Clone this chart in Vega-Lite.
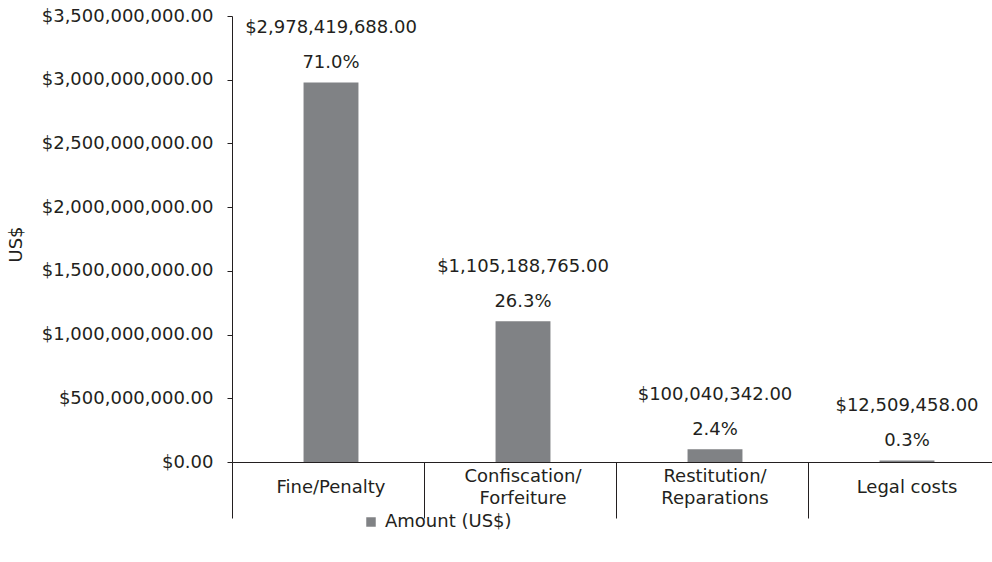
{
  "$schema": "https://vega.github.io/schema/vega-lite/v6.json",
  "width": 768,
  "height": 446,
  "autosize": {"type": "none"},
  "padding": {"left": 232, "top": 16, "right": 0, "bottom": 100},
  "background": "white",
  "config": {
    "view": {"stroke": null},
    "font": "DejaVu Sans",
    "text": {"font": "DejaVu Sans"}
  },
  "data": {
    "values": [
      {"category": "Fine/Penalty", "amount": 2978419688, "pct": 0.710},
      {"category": "Confiscation/ Forfeiture", "amount": 1105188765, "pct": 0.263},
      {"category": "Restitution/ Reparations", "amount": 100040342, "pct": 0.024},
      {"category": "Legal costs", "amount": 12509458, "pct": 0.003}
    ]
  },
  "encoding": {
    "x": {
      "field": "category",
      "type": "nominal",
      "sort": null,
      "scale": {"paddingInner": 0, "paddingOuter": 0},
      "axis": {
        "title": null,
        "tickBand": "extent",
        "tickSize": 56,
        "tickColor": "#231f20",
        "domainColor": "#231f20",
        "labels": false
      }
    }
  },
  "layer": [
    {
      "mark": {"type": "bar", "width": {"band": 0.286}, "xOffset": 3},
      "encoding": {
        "y": {
          "field": "amount",
          "type": "quantitative",
          "scale": {"domain": [0, 3500000000], "nice": false},
          "axis": {
            "title": "US$",
            "values": [0, 500000000, 1000000000, 1500000000, 2000000000, 2500000000, 3000000000, 3500000000],
            "format": "$,.2f",
            "grid": false,
            "domainColor": "#231f20",
            "tickColor": "#231f20",
            "tickSize": 5,
            "labelPadding": 14,
            "labelFontSize": 18,
            "labelColor": "#231f20",
            "titleFontSize": 18,
            "titleFontWeight": "normal",
            "titleColor": "#231f20",
            "titleX": -216,
            "titleY": 228,
            "titleBaseline": "middle"
          }
        },
        "color": {
          "datum": "Amount (US$)",
          "type": "nominal",
          "scale": {"range": ["#808285"]},
          "legend": {
            "orient": "none",
            "legendX": 130,
            "legendY": 497,
            "title": null,
            "symbolType": "square",
            "symbolSize": 90,
            "symbolStrokeWidth": 0,
            "labelFontSize": 18,
            "labelColor": "#231f20",
            "labelOffset": 5
          }
        }
      }
    },
    {
      "mark": {"type": "text", "dy": -54, "xOffset": 3, "fontSize": 18, "color": "#231f20"},
      "encoding": {
        "y": {"field": "amount", "type": "quantitative"},
        "text": {"field": "amount", "type": "quantitative", "format": "$,.2f"}
      }
    },
    {
      "mark": {"type": "text", "dy": -19, "xOffset": 3, "fontSize": 18, "color": "#231f20"},
      "encoding": {
        "y": {"field": "amount", "type": "quantitative"},
        "text": {"field": "pct", "type": "quantitative", "format": ".1%"}
      }
    },
    {
      "transform": [{"filter": "indexof(datum.category, '/ ') < 0"}],
      "mark": {"type": "text", "dy": 26, "xOffset": 3, "fontSize": 18, "color": "#231f20", "baseline": "middle"},
      "encoding": {
        "y": {"datum": 0, "type": "quantitative"},
        "text": {"field": "category", "type": "nominal"}
      }
    },
    {
      "transform": [{"filter": "indexof(datum.category, '/ ') >= 0"}],
      "mark": {"type": "text", "dy": 15, "xOffset": 3, "fontSize": 18, "color": "#231f20", "baseline": "middle", "lineBreak": " ", "lineHeight": 22},
      "encoding": {
        "y": {"datum": 0, "type": "quantitative"},
        "text": {"field": "category", "type": "nominal"}
      }
    }
  ]
}
